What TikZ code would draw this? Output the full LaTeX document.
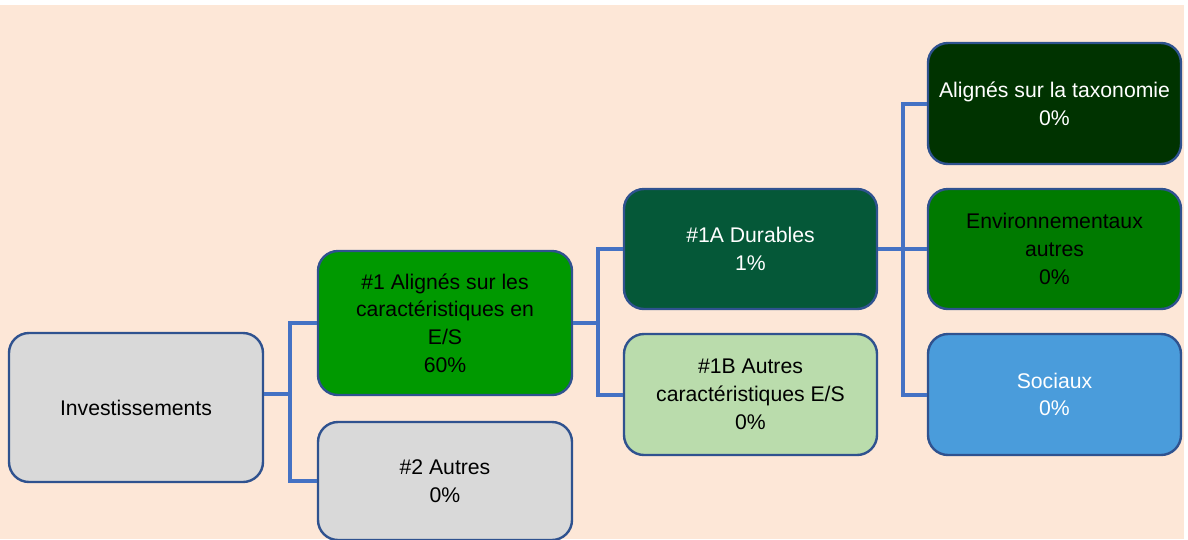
\documentclass[tikz,border=0pt]{standalone}
\usepackage{fontspec}
\setmainfont{Liberation Sans}
\usepackage{xcolor}
\definecolor{peach}{HTML}{FDE7D7}
\definecolor{edge}{HTML}{2F528F}
\definecolor{link}{HTML}{4472C4}
\definecolor{grayfill}{HTML}{D9D9D9}
\definecolor{esgreen}{HTML}{009900}
\definecolor{durgreen}{HTML}{055838}
\definecolor{lightgreen}{HTML}{BADCAC}
\definecolor{taxgreen}{HTML}{003300}
\definecolor{envgreen}{HTML}{007A00}
\definecolor{socblue}{HTML}{4A9CDB}
\tikzset{
  every node/.style={font=\fontsize{21.2}{27.7}\selectfont},
  box/.style={draw=edge, rounded corners=20pt, line width=2.4pt, align=center, inner sep=0pt, minimum width=253pt, minimum height=121pt, text=black},
  graybox/.style={box, fill=grayfill},
  esbox/.style={box, fill=esgreen},
  durbox/.style={box, fill=durgreen, text=white},
  lightbox/.style={box, fill=lightgreen},
  taxbox/.style={box, fill=taxgreen, text=white},
  envbox/.style={box, fill=envgreen},
  socbox/.style={box, fill=socblue, text=white},
  linkline/.style={draw=link, line width=4pt},
}

\begin{document}
\begin{tikzpicture}[x=1pt, y=-1pt]
\useasboundingbox (0,0) rectangle (1188,539);
\fill[white] (0,0) rectangle (1188,539);
\fill[peach] (0,5) rectangle (1184,539);
\node[graybox, minimum width=254pt, minimum height=149pt] (inv) at (136,407.5) {Investissements};
\node[esbox, minimum width=254pt, minimum height=144pt] (a1) at (445,323) {\#1 Alignés sur les\\caractéristiques en\\E/S\\60\%};
\node[graybox, minimum width=254pt, minimum height=118pt] (a2) at (445,481) {\#2 Autres\\0\%};
\node[durbox, minimum height=120pt] (d1a) at (750.5,249) {\#1A Durables\\1\%};
\node[lightbox] (d1b) at (750.5,394.5) {\#1B Autres\\caractéristiques E/S\\0\%};
\node[taxbox] (tax) at (1054.5,103.5) {Alignés sur la taxonomie\\0\%};
\node[envbox, minimum height=120pt] (env) at (1054.5,249) {Environnementaux\\autres\\0\%};
\node[socbox] (soc) at (1054.5,394.5) {Sociaux\\0\%};
% junctions
\coordinate (j1) at (290,394);
\coordinate (j2) at (598,323);
\coordinate (j3) at (903,249);
\draw[linkline] (inv.east |- j1) -- (j1);
\draw[linkline] (a1.west) -| (j1) |- (a2.west);
\draw[linkline] (a1.east) -- (j2);
\draw[linkline] (d1a.west) -| (j2) |- (d1b.west);
\draw[linkline] (d1a.east) -- (env.west);
\draw[linkline] (tax.west) -| (j3) |- (soc.west);
\end{tikzpicture}
\end{document}
